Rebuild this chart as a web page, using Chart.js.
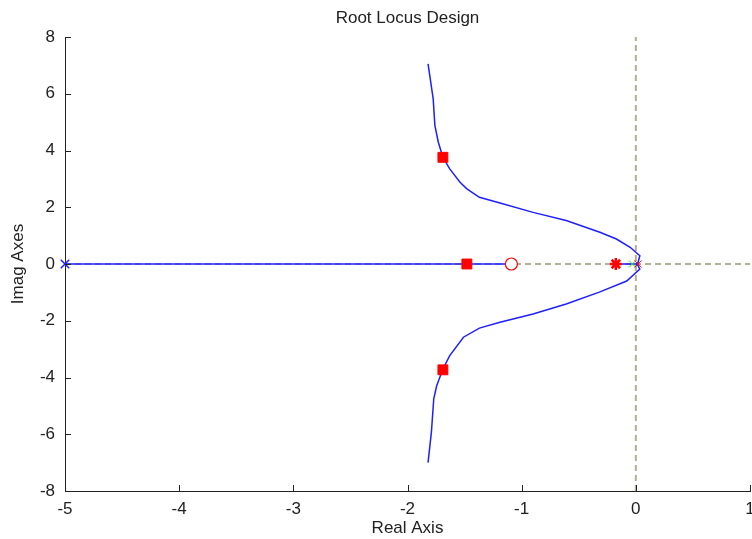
<!DOCTYPE html>
<html>
<head>
<meta charset="utf-8">
<script src="https://cdn.jsdelivr.net/npm/chart.js@4"></script>
<style>
  html, body { margin: 0; padding: 0; background: #fff; }
  #wrap { width: 752px; height: 539px; }
</style>
</head>
<body>
<div id="wrap"><canvas id="rlocus"></canvas></div>
<script>
// Root locus branches
const upperRe = [-1.82, -1.775, -1.76, -1.73, -1.69, -1.63, -1.54, -1.48, -1.37, -1.19, -0.90, -0.61, -0.315, -0.17, -0.05, 0.035, 0.02, 0];
const upperIm = [7.05, 5.82, 4.88, 4.29, 3.76, 3.35, 2.88, 2.65, 2.35, 2.15, 1.82, 1.53, 1.12, 0.88, 0.59, 0.29, 0.06, 0];
const lowerRe = [-1.82, -1.79, -1.77, -1.745, -1.69, -1.63, -1.51, -1.37, -1.19, -0.90, -0.61, -0.32, -0.08, 0.035, 0.02, 0];
const lowerIm = [-7.0, -5.9, -4.75, -4.3, -3.7, -3.23, -2.58, -2.26, -2.05, -1.76, -1.41, -0.99, -0.6, -0.18, -0.06, 0];
const realBranchA = [-5, -1.09];
const realBranchB = [-0.17, 0];

// Markers
const openLoopPoles = [-5];
const compPolesGreen = [-0.03];
const compPolesRed = [0.02];
const compZeros = [-1.09];
const compStar = [-0.175];
const closedLoopRe = [-1.69, -1.69, -1.48];
const closedLoopIm = [3.76, -3.73, 0];

// Reference (dashed) axes
const refX = [-5, 1];
const refY = [-8, 8];

const xTicks = [-5, -4, -3, -2, -1, 0, 1];
const yTicks = [-8, -6, -4, -2, 0, 2, 4, 6, 8];

const pts = (xs, ys) => xs.map((x, i) => ({ x: x, y: ys[i] }));
const onAxis = (xs) => xs.map((x) => ({ x: x, y: 0 }));

const blue = "#1f1fff";
const red = "#ff0000";
const dashGray = "rgb(176,176,150)";
const fontFamily = "'Liberation Sans', Arial, sans-serif";

const lineSet = (data, color, extra) => Object.assign({
  data: data,
  showLine: true,
  borderColor: color,
  borderWidth: 1.5,
  pointRadius: 0,
  tension: 0,
  fill: false,
}, extra || {});

const markerSet = (data, style, color, radius, fillColor, width) => ({
  data: data,
  showLine: false,
  clip: false,
  pointStyle: style,
  pointRadius: radius,
  pointBorderColor: color,
  pointBackgroundColor: fillColor,
  pointBorderWidth: width,
  pointHoverRadius: radius,
});

// inward tick marks + title
const decor = {
  id: "decor",
  afterDraw(chart) {
    const { ctx, chartArea } = chart;
    const xs = chart.scales.x, ys = chart.scales.y;
    ctx.save();
    ctx.strokeStyle = "#222";
    ctx.lineWidth = 1;
    ctx.beginPath();
    xTicks.forEach((v) => {
      const px = Math.round(xs.getPixelForValue(v)) + 0.5;
      ctx.moveTo(px, chartArea.bottom);
      ctx.lineTo(px, chartArea.bottom - 6);
    });
    yTicks.forEach((v) => {
      const py = Math.round(ys.getPixelForValue(v)) + 0.5;
      ctx.moveTo(chartArea.left, py);
      ctx.lineTo(chartArea.left + 6, py);
    });
    ctx.stroke();
    ctx.fillStyle = "#222";
    ctx.font = "17px " + fontFamily;
    ctx.textAlign = "center";
    ctx.textBaseline = "middle";
    ctx.fillText("Root Locus Design", (chartArea.left + chartArea.right) / 2, 18);
    ctx.restore();
  },
};

new Chart(document.getElementById("rlocus"), {
  type: "scatter",
  data: {
    // first dataset is drawn on top
    datasets: [
      markerSet(pts(closedLoopRe, closedLoopIm), "rect", red, 7, red, 1),
      markerSet(onAxis(compStar), "star", red, 6, red, 2.5),
      markerSet(onAxis(compZeros), "circle", red, 6, "#ffffff", 1.2),
      markerSet(onAxis(compPolesRed), "crossRot", red, 5, red, 1),
      markerSet(onAxis(compPolesGreen), "crossRot", "#33dd33", 5, "#33dd33", 1),
      markerSet(onAxis(openLoopPoles), "crossRot", blue, 6, blue, 1.5),
      lineSet(pts(upperRe, upperIm), blue),
      lineSet(pts(lowerRe, lowerIm), blue),
      lineSet(onAxis(realBranchA), blue),
      lineSet(onAxis(realBranchB), blue),
      lineSet(pts(refX, [0, 0]), dashGray, { borderDash: [6, 4], borderWidth: 2 }),
      lineSet(pts([0, 0], refY), dashGray, { borderDash: [6, 4], borderWidth: 2 }),
    ],
  },
  options: {
    responsive: true,
    maintainAspectRatio: false,
    animation: false,
    events: [],
    layout: { autoPadding: false, padding: { top: 37, right: 2, left: 0, bottom: 0 } },
    plugins: {
      legend: { display: false },
      tooltip: { enabled: false },
      title: { display: false },
    },
    scales: {
      x: {
        type: "linear",
        min: -5,
        max: 1,
        afterFit(scale) {
          scale.height = 48;
          scale.paddingLeft = 0;
          scale.paddingRight = 0;
        },
        afterBuildTicks(scale) { scale.ticks = xTicks.map((v) => ({ value: v })); },
        grid: { drawOnChartArea: false, drawTicks: false },
        border: { color: "#222", width: 1 },
        ticks: {
          color: "#222",
          padding: 8,
          maxRotation: 0,
          font: { family: fontFamily, size: 17 },
        },
        title: {
          display: true,
          text: "Real Axis",
          color: "#222",
          padding: { top: 0, bottom: 0 },
          font: { family: fontFamily, size: 17 },
        },
      },
      y: {
        type: "linear",
        min: -8,
        max: 8,
        afterFit(scale) {
          scale.width = 65;
          scale.paddingTop = 0;
          scale.paddingBottom = 0;
        },
        afterBuildTicks(scale) { scale.ticks = yTicks.map((v) => ({ value: v })); },
        grid: { drawOnChartArea: false, drawTicks: false },
        border: { color: "#222", width: 1 },
        ticks: {
          color: "#222",
          padding: 10,
          font: { family: fontFamily, size: 17 },
        },
        title: {
          display: true,
          text: "Imag Axes",
          color: "#222",
          padding: { top: 8, bottom: 0 },
          font: { family: fontFamily, size: 17 },
        },
      },
    },
  },
  plugins: [decor],
});
</script>
</body>
</html>
